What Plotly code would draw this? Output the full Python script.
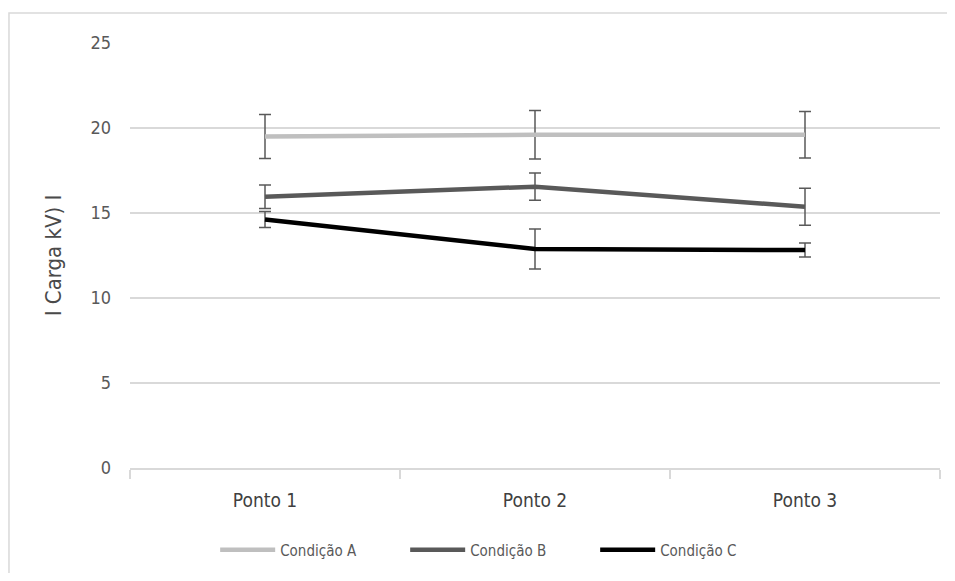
import plotly.graph_objects as go

pontos = ['Ponto 1', 'Ponto 2', 'Ponto 3']
series_names = ['Condição A', 'Condição B', 'Condição C']
cond_a = [19.5, 19.6, 19.6]
cond_a_err = [1.3, 1.43, 1.37]
cond_b = [15.95, 16.55, 15.37]
cond_b_err = [0.69, 0.8, 1.09]
cond_c = [14.62, 12.88, 12.82]
cond_c_err = [0.47, 1.18, 0.41]
y_ticks = [0, 5, 10, 15, 20, 25]

FONT = 'Liberation Sans Narrow, DejaVu Sans Condensed, Arial Narrow, sans-serif'
colours = ['#BFBFBF', '#595959', '#000000']

fig = go.Figure()
for name, vals, errs, col in zip(series_names, [cond_a, cond_b, cond_c],
                                 [cond_a_err, cond_b_err, cond_c_err], colours):
    fig.add_trace(go.Scatter(
        x=pontos, y=vals, name=name, mode='lines',
        line={'color': col, 'width': 4.5},
        error_y={'type': 'data', 'array': errs, 'visible': True,
                 'color': '#595959', 'thickness': 1.5, 'width': 6},
    ))

# page has an 8px body margin, so the figure is a bit smaller than the window
fig.update_layout(
    width=939, height=565,
    margin={'l': 122, 'r': 7, 't': 35, 'b': 105},
    plot_bgcolor='white', paper_bgcolor='white',
    font={'family': FONT, 'color': '#595959'},
    xaxis={
        'type': 'category',
        'range': [-0.5, 2.5],
        'tickson': 'boundaries',
        'ticks': 'outside', 'ticklen': 9, 'tickcolor': '#D9D9D9', 'tickwidth': 1.5,
        'showline': True, 'linecolor': '#D9D9D9', 'linewidth': 1.5,
        'showgrid': False,
        'ticklabelstandoff': 14,
        'tickfont': {'size': 19, 'color': '#404040'},
    },
    yaxis={
        'range': [0, 25], 'tickvals': y_ticks,
        'showgrid': True, 'gridcolor': '#D9D9D9', 'gridwidth': 1.5,
        'zeroline': False,
        'tickfont': {'size': 18, 'color': '#595959'},
        'ticklabelstandoff': 18,
        'title': {'text': 'I Carga kV) I',
                  'font': {'size': 22, 'color': '#4a4a4a'},
                  'standoff': 22},
    },
    legend={
        'orientation': 'h', 'x': 0.457, 'xanchor': 'center', 'y': -0.193, 'yanchor': 'middle',
        'font': {'size': 15, 'color': '#595959'},
        'itemwidth': 55, 'entrywidth': 120,
    },
    shapes=[{
        'type': 'rect', 'xref': 'paper', 'yref': 'paper',
        'x0': -0.1494, 'x1': 1.05, 'y0': -0.3, 'y1': 1.0706,
        'line': {'color': '#D9D9D9', 'width': 1.5},
    }],
)

fig.write_html('out.html')
